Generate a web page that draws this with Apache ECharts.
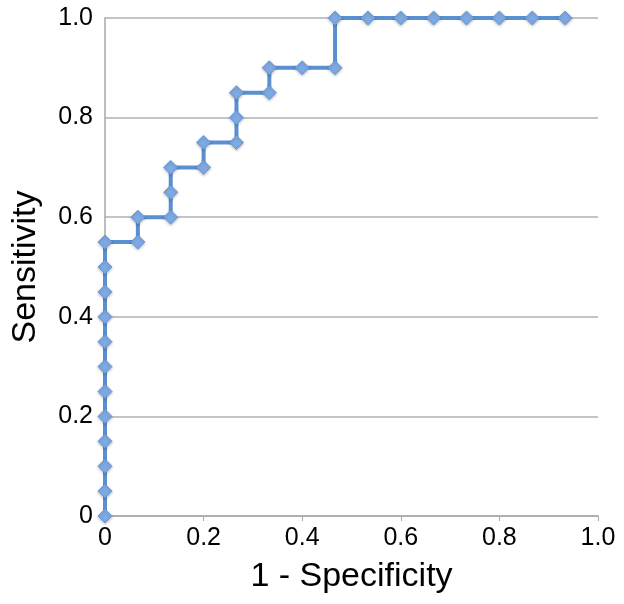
<!DOCTYPE html>
<html><head><meta charset="utf-8">
<script src="https://cdn.jsdelivr.net/npm/echarts@6/dist/echarts.min.js"></script>
<style>html,body{margin:0;padding:0;background:#fff}#c{width:624px;height:604px}</style>
</head><body><div id="c"></div>
<script>
const fpr = [0,0,0,0,0,0,0,0,0,0,0,0,
  1/15,1/15,
  2/15,2/15,2/15,
  3/15,3/15,
  4/15,4/15,4/15,
  5/15,5/15,
  6/15,
  7/15,7/15,
  8/15,9/15,10/15,11/15,12/15,13/15,14/15];
const tpr = [0,0.05,0.1,0.15,0.2,0.25,0.3,0.35,0.4,0.45,0.5,0.55,
  0.55,0.6,
  0.6,0.65,0.7,
  0.7,0.75,
  0.75,0.8,0.85,
  0.85,0.9,
  0.9,
  0.9,1.0,
  1,1,1,1,1,1,1];
const xTitle = '1 - Specificity';
const yTitle = 'Sensitivity';

const fmt = v => v === 0 ? '0' : v.toFixed(1);
const FONT = 'Liberation Sans, Arial, sans-serif';
const chart = echarts.init(document.getElementById('c'), null, {renderer:'canvas'});
chart.setOption({
  animation:false,
  backgroundColor:'#fff',
  grid:{left:105,right:26,top:18,bottom:88},
  xAxis:{type:'value',min:0,max:1,interval:0.2,
    name:xTitle,nameLocation:'middle',nameGap:44,
    nameTextStyle:{fontFamily:FONT,fontSize:34,color:'#000'},
    axisLine:{show:true,lineStyle:{color:'#a8a8a8',width:1.5}},
    axisTick:{show:true,length:5,lineStyle:{color:'#a8a8a8'}},
    axisLabel:{formatter:fmt,margin:10,fontFamily:FONT,fontSize:25,color:'#000'},
    splitLine:{show:false}},
  yAxis:{type:'value',min:0,max:1,interval:0.2,
    name:yTitle,nameLocation:'middle',nameGap:62,
    nameTextStyle:{fontFamily:FONT,fontSize:34,color:'#000'},
    axisLine:{show:true,lineStyle:{color:'#a8a8a8',width:1.5}},
    axisTick:{show:false},
    axisLabel:{formatter:fmt,margin:12,fontFamily:FONT,fontSize:25,color:'#000'},
    splitLine:{show:true,lineStyle:{color:'#b0b0b0',width:1.5}}},
  series:[{type:'line',data:fpr.map((x,i)=>[x,tpr[i]]),
    symbol:'diamond',symbolSize:[14,14],showSymbol:true,
    lineStyle:{color:'#5a8fd0',width:4},
    itemStyle:{color:'#7eaae3',borderColor:'#6d9bd8',borderWidth:1,shadowColor:'rgba(0,0,0,0.25)',shadowBlur:3,shadowOffsetY:1}
  }]
});
</script></body></html>
